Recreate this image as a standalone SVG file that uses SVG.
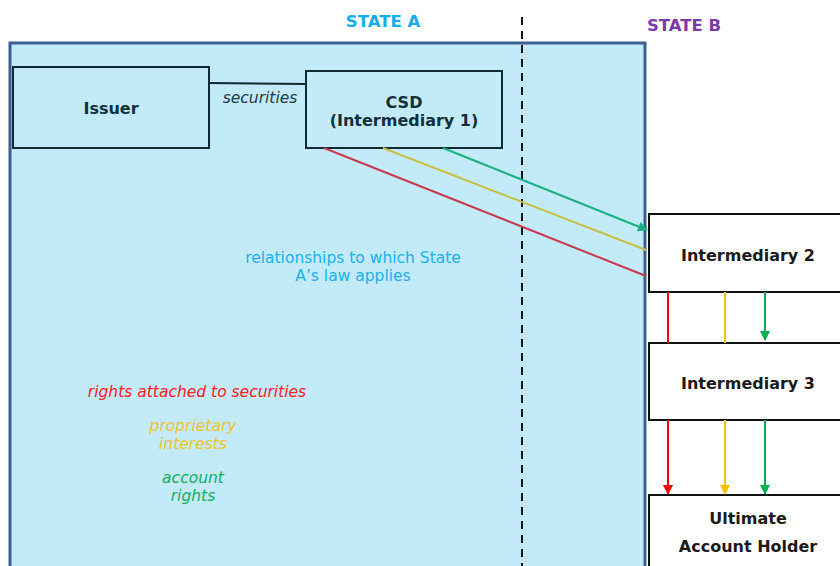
<svg xmlns="http://www.w3.org/2000/svg" width="840" height="566" viewBox="0 0 840 566">
<style>
.t{font-family:"DejaVu Sans",Verdana,sans-serif;}
.b{font-weight:bold;font-size:16px;fill:#1a1a1a;text-anchor:middle;}
.bd{font-weight:bold;font-size:16px;fill:#10303c;text-anchor:middle;}
.lbl{font-size:15.5px;text-anchor:middle;}
.it{font-style:italic;}
.box{stroke:#0e2a33;stroke-width:2;fill:#C2EAF8;}
.wbox{stroke:#111;stroke-width:2;fill:#fff;}
</style>
<defs>
<marker id="ag" viewBox="0 0 10 10" refX="9" refY="5" markerWidth="5" markerHeight="5" orient="auto"><path d="M0,0L10,5L0,10z" fill="#1AB080"/></marker>
<marker id="ar" viewBox="0 0 10 10" refX="9" refY="5" markerWidth="5" markerHeight="5" orient="auto"><path d="M0,0L10,5L0,10z" fill="#FF0000"/></marker>
<marker id="ay" viewBox="0 0 10 10" refX="9" refY="5" markerWidth="5" markerHeight="5" orient="auto"><path d="M0,0L10,5L0,10z" fill="#FFC000"/></marker>
<marker id="ag2" viewBox="0 0 10 10" refX="9" refY="5" markerWidth="5" markerHeight="5" orient="auto"><path d="M0,0L10,5L0,10z" fill="#00B050"/></marker>
</defs>
<g id="stateA">
<rect x="10" y="43" width="635" height="540" fill="#C2EAF8" stroke="#3B5E8E" stroke-width="3"/>
</g>
<text class="t" x="383" y="27" font-size="16.5" font-weight="bold" fill="#12AEEA" text-anchor="middle">STATE A</text>
<text class="t" x="684" y="31" font-size="16.5" font-weight="bold" fill="#7A3BA8" text-anchor="middle">STATE B</text>
<line x1="522" y1="17" x2="522" y2="566" stroke="#111" stroke-width="2" stroke-dasharray="8,6"/>
<g id="issuer">
<rect class="box" x="13" y="67" width="196" height="81"/>
<text class="t bd" x="111" y="114">Issuer</text>
</g>
<g id="csd">
<rect class="box" x="306" y="71" width="196" height="77"/>
<text class="t bd" x="404" y="108">CSD</text>
<text class="t bd" x="404" y="126">(Intermediary 1)</text>
</g>
<g id="int2">
<rect class="wbox" x="649" y="214" width="200" height="78"/>
<text class="t b" x="748" y="261">Intermediary 2</text>
</g>
<g id="int3">
<rect class="wbox" x="649" y="343" width="200" height="77"/>
<text class="t b" x="748" y="389">Intermediary 3</text>
</g>
<g id="uah">
<rect class="wbox" x="649" y="495" width="200" height="90"/>
<text class="t b" x="748" y="524">Ultimate</text>
<text class="t b" x="748" y="552">Account Holder</text>
</g>
<g id="connectors" fill="none">
<line x1="209" y1="83" x2="306" y2="84" stroke="#0e2a33" stroke-width="2"/>
<line x1="324" y1="148" x2="646" y2="276" stroke="#C83A4A" stroke-width="2"/>
<line x1="383" y1="148" x2="646" y2="250" stroke="#C8C040" stroke-width="2"/>
<line x1="443" y1="148" x2="647" y2="230" stroke="#1AB080" stroke-width="2" marker-end="url(#ag)"/>
<line x1="668" y1="292" x2="668" y2="343" stroke="#FF0000" stroke-width="2"/>
<line x1="725" y1="292" x2="725" y2="343" stroke="#FFC000" stroke-width="2"/>
<line x1="765" y1="292" x2="765" y2="340" stroke="#00B050" stroke-width="2" marker-end="url(#ag2)"/>
<line x1="668" y1="420" x2="668" y2="494" stroke="#FF0000" stroke-width="2" marker-end="url(#ar)"/>
<line x1="725" y1="420" x2="725" y2="494" stroke="#FFC000" stroke-width="2" marker-end="url(#ay)"/>
<line x1="765" y1="420" x2="765" y2="494" stroke="#00B050" stroke-width="2" marker-end="url(#ag2)"/>
</g>
<text class="t lbl it" x="260" y="103" fill="#1e3a48">securities</text>
<text class="t lbl" x="353" y="263" fill="#1AB0F0">relationships to which State</text>
<text class="t lbl" x="353" y="281" fill="#1AB0F0">A’s law applies</text>
<text class="t lbl it" x="197" y="397" fill="#FF2020">rights attached to securities</text>
<text class="t lbl it" x="193" y="431" fill="#F2C230">proprietary</text>
<text class="t lbl it" x="193" y="449" fill="#F2C230">interests</text>
<text class="t lbl it" x="193" y="483" fill="#10B060">account</text>
<text class="t lbl it" x="193" y="501" fill="#10B060">rights</text>
</svg>
